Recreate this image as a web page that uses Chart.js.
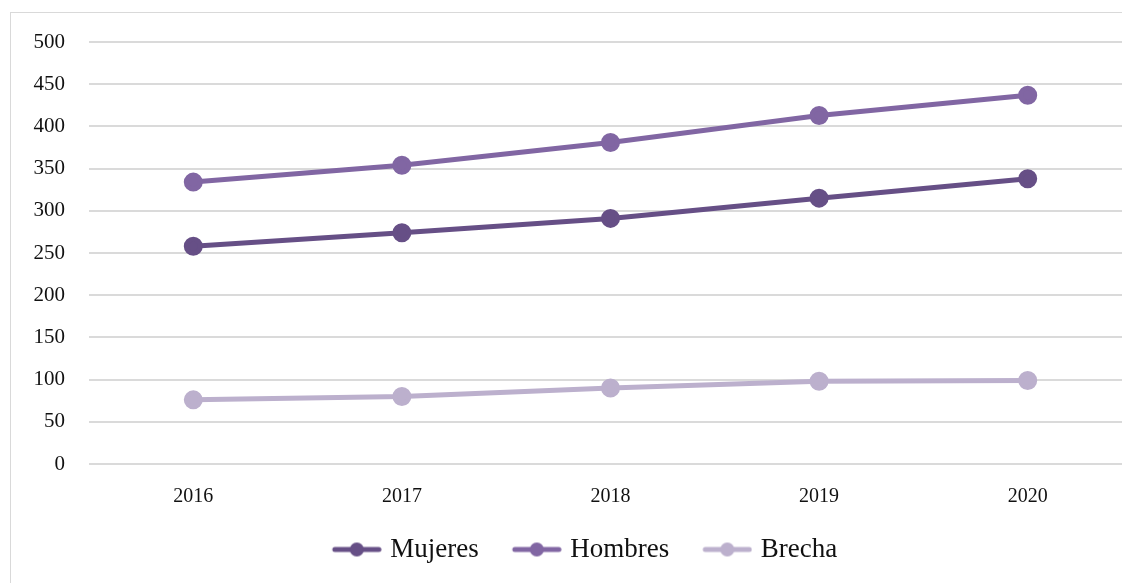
<!DOCTYPE html>
<html lang="es">
<head>
<meta charset="utf-8">
<title>Mujeres, Hombres y Brecha 2016-2020</title>
<script src="https://cdn.jsdelivr.net/npm/chart.js@4/dist/chart.umd.min.js"></script>
<style>
  html, body { margin: 0; padding: 0; background: #fff; overflow: hidden; }
  #marco {
    position: absolute;
    left: 10px;
    top: 12px;
    width: 1150px;
    height: 575px;
    border: 1.5px solid #d9d9d9;
    background: #fff;
  }
  #grafico { display: block; }
</style>
</head>
<body>
<div id="marco"><canvas id="grafico" width="1150" height="575"></canvas></div>
<script>
// Datos por año
const anios = ['2016', '2017', '2018', '2019', '2020'];
const mujeres = [258, 274, 291, 315, 338];
const hombres = [334, 354, 381, 413, 437];
const brecha = [76, 80, 90, 98, 99];

const colores = {
  mujeres: '#664f86',
  hombres: '#8166a3',
  brecha: '#bcb0cd'
};

const fuente = "'Liberation Serif', 'DejaVu Serif', serif";

// Icono de leyenda: línea con punto en el centro
// (11 px transparentes a la izquierda para separar los elementos)
function iconoLeyenda(color) {
  const c = document.createElement('canvas');
  c.width = 61;
  c.height = 16;
  const ctx = c.getContext('2d');
  ctx.strokeStyle = color;
  ctx.lineWidth = 5;
  ctx.lineCap = 'round';
  ctx.beginPath();
  ctx.moveTo(14, 8);
  ctx.lineTo(58, 8);
  ctx.stroke();
  ctx.fillStyle = color;
  ctx.beginPath();
  ctx.arc(36, 8, 7, 0, Math.PI * 2);
  ctx.fill();
  return c;
}

function serie(label, data, color) {
  return {
    label: label,
    data: data,
    borderColor: color,
    backgroundColor: color,
    pointBackgroundColor: color,
    pointBorderColor: color,
    borderWidth: 5,
    pointRadius: 7,
    pointHoverRadius: 7,
    pointStyle: 'circle',
    tension: 0
  };
}

// Desplaza la leyenda un poco a la derecha
const moverLeyenda = {
  id: 'moverLeyenda',
  afterLayout(chart) {
    chart.legend.left += 10;
    chart.legend.right += 10;
  }
};

const ctx = document.getElementById('grafico').getContext('2d');
new Chart(ctx, {
  type: 'line',
  data: {
    labels: anios,
    datasets: [
      serie('Mujeres', mujeres, colores.mujeres),
      serie('Hombres', hombres, colores.hombres),
      serie('Brecha', brecha, colores.brecha)
    ]
  },
  plugins: [moverLeyenda],
  options: {
    responsive: false,
    animation: false,
    layout: { padding: { top: 29, right: 29, bottom: 15, left: 0 } },
    plugins: {
      tooltip: { enabled: false },
      legend: {
        position: 'bottom',
        labels: {
          usePointStyle: true,
          pointStyleWidth: 51,
          padding: 27,
          color: '#111',
          font: { family: fuente, size: 27 },
          generateLabels(chart) {
            return chart.data.datasets.map((ds, i) => ({
              text: ds.label,
              pointStyle: iconoLeyenda(ds.borderColor),
              fillStyle: ds.borderColor,
              strokeStyle: ds.borderColor,
              lineWidth: 0,
              fontColor: '#111',
              hidden: false,
              datasetIndex: i
            }));
          }
        }
      }
    },
    scales: {
      x: {
        offset: true,
        grid: { display: false },
        border: { display: false },
        ticks: {
          color: '#111',
          padding: 13,
          font: { family: fuente, size: 20 }
        },
        afterFit(s) { s.height = 45; }
      },
      y: {
        min: 0,
        max: 500,
        border: { display: false },
        // marcas invisibles para separar las etiquetas de la rejilla
        grid: { color: '#dadada', lineWidth: 2, drawTicks: true, tickLength: 20, tickColor: 'rgba(0,0,0,0)' },
        ticks: {
          stepSize: 50,
          color: '#111',
          padding: 4,
          font: { family: fuente, size: 21 }
        },
        afterFit(s) { s.width = 78; }
      }
    }
  }
});
</script>
</body>
</html>
